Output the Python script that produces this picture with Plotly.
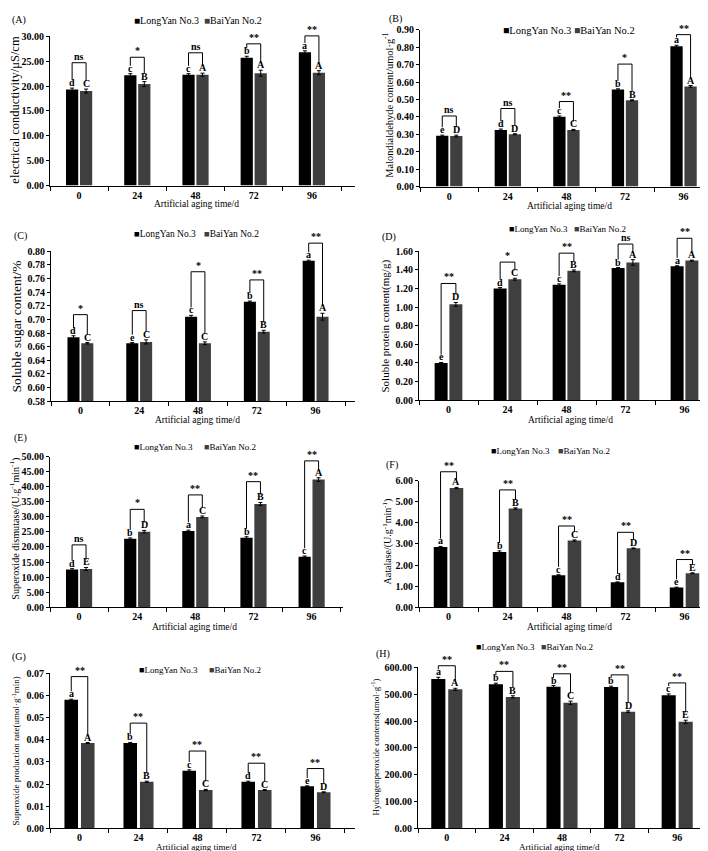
import plotly.graph_objects as go

W, H = 708, 851
FONT = "Liberation Serif, Times New Roman, serif"
C_LONG, C_BAI = "#000000", "#3f3f3f"

times = ["0", "24", "48", "72", "96"]

# (A) electrical conductivity
ec_ly = [19.3, 22.2, 22.3, 25.7, 26.8]
ec_by = [19.0, 20.4, 22.3, 22.6, 22.7]
ec_ly_err = [0.3, 0.3, 0.2, 0.3, 0.3]
ec_by_err = [0.4, 0.5, 0.3, 0.6, 0.4]
ec_ly_grp = ["d", "c", "c", "b", "a"]
ec_by_grp = ["C", "B", "A", "A", "A"]
ec_sig = ["ns", "*", "ns", "**", "**"]
ec_sig_top = [24.7, 25.8, 26.7, 28.5, 30.1]

# (B) malondialdehyde
mda_ly = [0.291, 0.325, 0.400, 0.557, 0.805]
mda_by = [0.290, 0.300, 0.325, 0.495, 0.575]
mda_ly_err = [0.004, 0.005, 0.005, 0.004, 0.006]
mda_by_err = [0.005, 0.003, 0.003, 0.003, 0.005]
mda_ly_grp = ["e", "d", "c", "b", "a"]
mda_by_grp = ["D", "D", "C", "B", "A"]
mda_sig = ["ns", "ns", "**", "*", "**"]
mda_sig_top = [0.405, 0.448, 0.488, 0.703, 0.872]

# (C) soluble sugar
sug_ly = [0.674, 0.665, 0.704, 0.726, 0.786]
sug_by = [0.665, 0.667, 0.665, 0.682, 0.704]
sug_ly_err = [0.002, 0.001, 0.002, 0.001, 0.001]
sug_by_err = [0.001, 0.003, 0.002, 0.002, 0.005]
sug_ly_grp = ["d", "e", "c", "b", "a"]
sug_by_grp = ["C", "C", "C", "B", "A"]
sug_sig = ["*", "ns", "*", "**", "**"]
sug_sig_top = [0.707, 0.713, 0.770, 0.758, 0.812]

# (D) soluble protein
pro_ly = [0.40, 1.20, 1.24, 1.42, 1.44]
pro_by = [1.03, 1.30, 1.39, 1.48, 1.50]
pro_ly_err = [0.005, 0.01, 0.01, 0.005, 0.005]
pro_by_err = [0.02, 0.01, 0.01, 0.03, 0.005]
pro_ly_grp = ["e", "d", "c", "b", "a"]
pro_by_grp = ["D", "C", "B", "A", "A"]
pro_sig = ["**", "*", "**", "ns", "**"]
pro_sig_top = [1.254, 1.484, 1.58, 1.678, 1.74]

# (E) superoxide dismutase
sod_ly = [12.5, 22.7, 25.3, 23.1, 16.8]
sod_by = [12.7, 25.1, 30.0, 34.3, 42.4]
sod_ly_err = [0.3, 0.3, 0.3, 0.3, 0.2]
sod_by_err = [0.5, 0.4, 0.3, 0.5, 0.6]
sod_ly_grp = ["d", "b", "a", "b", "c"]
sod_by_grp = ["E", "D", "C", "B", "A"]
sod_sig = ["ns", "*", "**", "**", "**"]
sod_sig_top = [20.7, 32.5, 37.3, 41.7, 48.6]

# (F) catalase
cat_ly = [2.85, 2.62, 1.51, 1.18, 0.93]
cat_by = [5.65, 4.68, 3.16, 2.79, 1.61]
cat_ly_err = [0.03, 0.05, 0.03, 0.02, 0.02]
cat_by_err = [0.03, 0.03, 0.03, 0.02, 0.02]
cat_ly_grp = ["a", "b", "c", "d", "e"]
cat_by_grp = ["A", "B", "C", "D", "E"]
cat_sig = ["**", "**", "**", "**", "**"]
cat_sig_top = [6.42, 5.56, 3.85, 3.55, 2.26]

# (G) superoxide production rate
o2_ly = [0.058, 0.0385, 0.026, 0.021, 0.019]
o2_by = [0.0385, 0.021, 0.0173, 0.0173, 0.0163]
o2_ly_err = [0.0003, 0.0003, 0.0004, 0.0003, 0.0002]
o2_by_err = [0.0002, 0.0003, 0.0003, 0.0002, 0.0002]
o2_ly_grp = ["a", "b", "c", "d", "e"]
o2_by_grp = ["A", "B", "C", "C", "D"]
o2_sig = ["**", "**", "**", "**", "**"]
o2_sig_top = [0.0685, 0.0475, 0.0349, 0.0294, 0.027]

# (H) hydrogen peroxide
hp_ly = [557, 537, 528, 527, 496]
hp_by = [518, 490, 468, 435, 397]
hp_ly_err = [6, 4, 4, 3, 5]
hp_by_err = [4, 4, 6, 3, 6]
hp_ly_grp = ["a", "b", "b", "b", "c"]
hp_by_grp = ["A", "B", "C", "D", "E"]
hp_sig = ["**", "**", "**", "**", "**"]
hp_sig_top = [606, 585, 576, 572, 542]

# ── panel layout (pixel boxes: left, top, right, bottom) ─────────────────────
panels = [
    dict(tag="(A)", ly=ec_ly, by=ec_by, le=ec_ly_err, be=ec_by_err, lg=ec_ly_grp, bg=ec_by_grp,
         sig=ec_sig, top=ec_sig_top, ytitle="electrical conductivity/μS/cm",
         box=(42, 22.7, 347, 174), yr=(0, 30), dt=5, xmax=4.74, bw=0.21, gap=0.03,
         yt=(7, 97, 12.5), xt=(188, 193, 9.5), leg=(124, 194, 7, 10), lab=(2, 6)),
    dict(tag="(B)", ly=mda_ly, by=mda_by, le=mda_ly_err, be=mda_by_err, lg=mda_ly_grp, bg=mda_by_grp,
         sig=mda_sig, top=mda_sig_top, ytitle="Malondialdehyde content/umol·g<sup>-1</sup>",
         box=(412, 16, 706, 175), yr=(0, 0.9), dt=0.1, xmax=4.52, bw=0.21, gap=0.03,
         yt=(380, 93, 10.4), xt=(561, 195, 9.5), leg=(493, 564, 17, 10.5), lab=(379, 5)),
    dict(tag="(C)", ly=sug_ly, by=sug_by, le=sug_ly_err, be=sug_by_err, lg=sug_ly_grp, bg=sug_by_grp,
         sig=sug_sig, top=sug_sig_top, ytitle="Soluble sugar content/%",
         box=(43, 240.7, 347, 392.7), yr=(0.58, 0.80), dt=0.02, xmax=4.67, bw=0.205, gap=0.03,
         yt=(9, 317, 13.5), xt=(189, 412, 9.5), leg=(124, 194, 223, 9.5), lab=(4, 225)),
    dict(tag="(D)", ly=pro_ly, by=pro_by, le=pro_ly_err, be=pro_by_err, lg=pro_ly_grp, bg=pro_by_grp,
         sig=pro_sig, top=pro_sig_top, ytitle="Soluble protein content(mg/g)",
         box=(411, 240.7, 706, 391.7), yr=(0, 1.6), dt=0.2, xmax=4.5, bw=0.22, gap=0.03,
         yt=(378, 317, 11), xt=(562, 412, 9.5), leg=(499, 564, 218, 9), lab=(372, 226)),
    dict(tag="(E)", ly=sod_ly, by=sod_by, le=sod_ly_err, be=sod_by_err, lg=sod_ly_grp, bg=sod_by_grp,
         sig=sod_sig, top=sod_sig_top,
         ytitle="Superoxide dismutase/(U.g<sup>-1</sup>min<sup>-1</sup>)",
         box=(42, 449, 335, 601.7), yr=(0, 50), dt=5, xmax=4.54, bw=0.21, gap=0.03,
         yt=(7, 522, 10.2), xt=(186, 622, 9.5), leg=(124, 194, 439, 9), lab=(4, 430)),
    dict(tag="(F)", ly=cat_ly, by=cat_by, le=cat_ly_err, be=cat_by_err, lg=cat_ly_grp, bg=cat_by_grp,
         sig=cat_sig, top=cat_sig_top, ytitle="Aatalase/(U.g<sup>-1</sup>min<sup>-1</sup>)",
         box=(411, 473.3, 706, 601.7), yr=(0, 6), dt=1, xmax=4.5, bw=0.23, gap=0.04,
         yt=(379, 535, 10), xt=(561, 622, 9.5), leg=(481, 548, 443, 9), lab=(376, 457)),
    dict(tag="(G)", ly=o2_ly, by=o2_by, le=o2_ly_err, be=o2_by_err, lg=o2_ly_grp, bg=o2_by_grp,
         sig=o2_sig, top=o2_sig_top,
         ytitle="Superoxide production rate(umol·g<sup>-1</sup>min)",
         box=(42, 668.7, 347, 826), yr=(0, 0.07), dt=0.01, xmax=4.67, bw=0.23, gap=0.05,
         yt=(8, 748, 9), xt=(188, 844.5, 9), leg=(129, 199, 665, 9), lab=(2, 652)),
    dict(tag="(H)", ly=hp_ly, by=hp_by, le=hp_ly_err, be=hp_by_err, lg=hp_ly_grp, bg=hp_by_grp,
         sig=hp_sig, top=hp_sig_top,
         ytitle="Hydrogenperoxide contents(umol·g<sup>-1</sup>)",
         box=(410, 662.7, 698, 826), yr=(0, 600), dt=100, xmax=4.5, bw=0.245, gap=0.05,
         yt=(367, 744, 9), xt=(551, 844.5, 9), leg=(466, 531, 642, 9), lab=(366, 649)),
]

fig = go.Figure()
shapes, annos = [], []
tick_font = dict(family=FONT, size=10, color="black", weight="bold")
mark_font = dict(family=FONT, size=10, color="black", weight="bold")

for i, p in enumerate(panels):
    n = "" if i == 0 else str(i + 1)
    xa, ya = "x" + n, "y" + n
    l, t, r, b = p["box"]
    r0, r1 = p["yr"]
    ph = b - t
    bw, gap = p["bw"], p["gap"]
    off = gap / 2 + bw / 2

    def ydom(v):
        return (v - r0) / (r1 - r0)

    for vals, errs, col, offset, name in [
        (p["ly"], p["le"], C_LONG, -gap / 2 - bw, "LongYan No.3"),
        (p["by"], p["be"], C_BAI, gap / 2, "BaiYan No.2"),
    ]:
        fig.add_trace(go.Bar(
            x=times, y=vals, xaxis=xa, yaxis=ya, name=name,
            width=bw, offset=offset,
            marker=dict(color=col, line_width=0),
            error_y=dict(type="data", array=errs, color="black", thickness=1, width=2),
            showlegend=False,
        ))

    fig.update_layout({
        "xaxis" + n: dict(domain=[l / W, r / W], anchor=ya, type="category",
                          range=[-0.5, p["xmax"]], showline=True, linecolor="black",
                          linewidth=1, ticks="outside", tickson="boundaries", ticklen=4,
                          tickcolor="black", showgrid=False, tickfont=tick_font),
        "yaxis" + n: dict(domain=[1 - b / H, 1 - t / H], anchor=xa, range=[r0, r1],
                          tick0=r0, dtick=p["dt"], tickformat=".2f", showline=True,
                          linecolor="black", linewidth=1, ticks="outside", ticklen=3,
                          tickcolor="black", showgrid=False, zeroline=False,
                          tickfont=tick_font),
    })

    # significance brackets and group letters
    for k in range(5):
        yl = ydom(p["ly"][k] + p["le"][k]) + 8 / ph
        yr_ = ydom(p["by"][k] + p["be"][k]) + 8 / ph
        yt = ydom(p["top"][k])
        shapes.append(dict(
            type="path", xref=xa, yref=ya + " domain",
            path=f"M {k - off},{yl} L {k - off},{yt} L {k + off},{yt} L {k + off},{yr_}",
            line=dict(color="black", width=1),
        ))
        annos.append(dict(xref=xa, yref=ya + " domain", x=k, y=yt, yanchor="bottom",
                          text=p["sig"][k], showarrow=False, yshift=-1, font=mark_font))
        for dx, v, e, g in [(-off, p["ly"][k], p["le"][k], p["lg"][k]),
                            (off, p["by"][k], p["be"][k], p["bg"][k])]:
            annos.append(dict(xref=xa, yref=ya + " domain", x=k + dx, y=ydom(v + e),
                              yanchor="bottom", text=g, showarrow=False, yshift=-2,
                              font=mark_font))

    # axis titles
    ytx, yty, yts = p["yt"]
    annos.append(dict(xref="paper", yref="paper", x=ytx / W, y=1 - yty / H, textangle=-90,
                      xanchor="center", yanchor="middle", text=p["ytitle"], showarrow=False,
                      font=dict(family=FONT, size=yts, color="black")))
    xtx, xty, xts = p["xt"]
    annos.append(dict(xref="paper", yref="paper", x=xtx / W, y=1 - xty / H,
                      xanchor="center", yanchor="middle", text="Artificial aging time/d",
                      showarrow=False, borderpad=0,
                      font=dict(family=FONT, size=xts, color="black")))

    # legend
    lx1, lx2, ly, ls = p["leg"]
    for x, txt, col in [(lx1, "LongYan No.3", C_LONG), (lx2, "BaiYan No.2", C_BAI)]:
        annos.append(dict(xref="paper", yref="paper", x=x / W, y=1 - ly / H,
                          xanchor="left", yanchor="middle", showarrow=False,
                          text=f'<span style="color:{col}">■</span>{txt}',
                          font=dict(family=FONT, size=ls, color="black")))

    # panel tag
    annos.append(dict(xref="paper", yref="paper", x=p["lab"][0] / W, y=1 - p["lab"][1] / H,
                      xanchor="left", yanchor="middle", text=p["tag"], showarrow=False,
                      font=dict(family=FONT, size=10, color="black")))

fig.update_layout(
    width=W, height=H,
    margin=dict(l=0, r=0, t=0, b=0),
    paper_bgcolor="white", plot_bgcolor="white",
    showlegend=False,
    font=dict(family=FONT, color="black"),
    shapes=shapes, annotations=annos,
)

fig.write_html("out.html")
